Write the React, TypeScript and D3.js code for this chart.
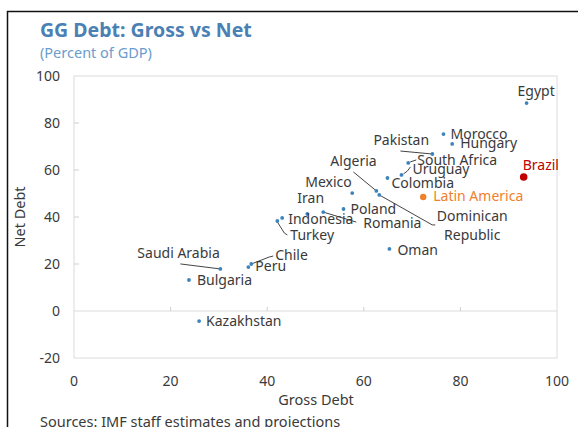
import React from "react";
import * as d3 from "d3";

const countries = [
  "Egypt", "Brazil", "Morocco", "Hungary", "Pakistan", "South Africa", "Uruguay",
  "Colombia", "Latin America", "Algeria", "Dominican Republic", "Mexico", "Iran",
  "Poland", "Romania", "Indonesia", "Turkey", "Oman", "Chile", "Peru",
  "Saudi Arabia", "Bulgaria", "Kazakhstan",
];
const grossDebt = [
  93.7, 93.1, 76.5, 78.3, 74.2, 69.2, 67.8,
  64.9, 72.3, 62.6, 63.2, 57.6, 48.3,
  55.8, 51.6, 43.1, 42.1, 65.3, 36.7, 36.1,
  30.3, 23.8, 25.9,
];
const netDebt = [
  88.5, 57.0, 75.3, 71.1, 66.8, 63.0, 57.9,
  56.6, 48.5, 51.1, 49.4, 50.2, 41.3,
  43.4, 42.1, 39.6, 38.3, 26.4, 20.0, 18.7,
  17.9, 13.2, -4.3,
];
const pointKind = [
  "country", "highlight", "country", "country", "country", "country", "country",
  "country", "aggregate", "country", "country", "country", "country",
  "country", "country", "country", "country", "country", "country", "country",
  "country", "country", "country",
];
const xTicks = [0, 20, 40, 60, 80, 100];
const yTicks = [-20, 0, 20, 40, 60, 80, 100];

// label layout (pixel offsets from the point), leader polylines in offsets
type Lab = { dx: number; dy: number; anchor?: string; lines?: string[]; leader?: [number, number][] };
const labelLayout: Record<string, Lab> = {
  "Egypt": { dx: -9, dy: -7 },
  "Brazil": { dx: -1, dy: -7 },
  "Morocco": { dx: 7, dy: 5 },
  "Hungary": { dx: 8, dy: 4 },
  "Pakistan": { dx: -59, dy: -9, leader: [[-32, -3], [0, 0]] },
  "South Africa": { dx: 9, dy: 2, leader: [[2, -1], [8, -3]] },
  "Uruguay": { dx: 11, dy: -1, leader: [[2, -1], [6, -4], [9, -8]] },
  "Colombia": { dx: 4, dy: 10 },
  "Latin America": { dx: 10, dy: 4 },
  "Algeria": { dx: -46, dy: -25, leader: [[-23, -19], [0, 0]] },
  "Dominican Republic": { dx: 93, dy: 26, anchor: "middle", lines: ["Dominican", "Republic"], leader: [[0, 0], [53, 30], [56, 30]] },
  "Mexico": { dx: -47, dy: -6 },
  "Iran": { dx: -10, dy: -11 },
  "Poland": { dx: 7, dy: 5 },
  "Romania": { dx: 40, dy: 16, leader: [[0, 0], [33, 10]] },
  "Indonesia": { dx: 6, dy: 6 },
  "Turkey": { dx: 13, dy: 19, leader: [[0, 1], [7, 12], [10, 14]] },
  "Oman": { dx: 8, dy: 6 },
  "Chile": { dx: 24, dy: -4, leader: [[0, 0], [18, -7], [22, -8]] },
  "Peru": { dx: 7, dy: 4 },
  "Saudi Arabia": { dx: -83, dy: -11, leader: [[-40, -5], [0, 0]] },
  "Bulgaria": { dx: 8, dy: 5 },
  "Kazakhstan": { dx: 7, dy: 5 },
};

const W = 578;
const H = 427;
const FONT = "'Noto Sans', 'Open Sans', sans-serif";
const TEXT = "#3a3a3a";
const BLUE = "#3d84bd";
const ORANGE = "#f0802b";
const RED = "#c00000";

export default function App() {
  const x = d3.scaleLinear().domain([0, 100]).range([74, 557]);
  const y = d3.scaleLinear().domain([-20, 100]).range([358, 76]);
  const line = d3.line<[number, number]>();

  const pts = countries.map((name, i) => ({
    name,
    gx: x(grossDebt[i]),
    gy: y(netDebt[i]),
    kind: pointKind[i],
  }));

  return (
    <svg width={W} height={H} style={{ position: "absolute", left: 0, top: 0, background: "#fff" }} fontFamily={FONT}>
      <rect x={0} y={0} width={W} height={H} fill="#fff" />
      {/* outer border */}
      <path d={`M7.5,${H} V11.5 H${W}`} fill="none" stroke="#111" strokeWidth={1.5} />

      {/* title */}
      <text x={40} y={37} fontSize={19.5} fontWeight={700} fill="#4a80b4">GG Debt: Gross vs Net</text>
      <text x={40} y={58} fontSize={14.5} fill="#6a9ccc">(Percent of GDP)</text>

      {/* plot frame */}
      <rect x={x(0)} y={y(100)} width={x(100) - x(0)} height={y(-20) - y(100)} fill="none" stroke="#dcdcdc" strokeWidth={1} />
      {/* zero line */}
      <line x1={x(0)} x2={x(100)} y1={y(0)} y2={y(0)} stroke="#dcdcdc" strokeWidth={1} />
      {/* y ticks */}
      {yTicks.filter(t => t > -20 && t < 100 && t !== 0).map(t => (
        <line key={"yt" + t} x1={x(0)} x2={x(0) + 5} y1={y(t)} y2={y(t)} stroke="#cfcfcf" />
      ))}
      {/* x ticks */}
      {xTicks.filter(t => t > 0 && t < 100).map(t => (
        <line key={"xt" + t} x1={x(t)} x2={x(t)} y1={y(0)} y2={y(0) - 4} stroke="#cfcfcf" />
      ))}
      {yTicks.map(t => (
        <text key={"yl" + t} x={60} y={y(t) + 5} textAnchor="end" fontSize={14} fill={TEXT}>{t}</text>
      ))}
      {xTicks.map(t => (
        <text key={"xl" + t} x={x(t)} y={386} textAnchor="middle" fontSize={14} fill={TEXT}>{t}</text>
      ))}
      <text x={316} y={405} textAnchor="middle" fontSize={14.5} fill={TEXT}>Gross Debt</text>
      <text transform={`translate(25,217) rotate(-90)`} textAnchor="middle" fontSize={14.5} fill={TEXT}>Net Debt</text>

      {/* leaders */}
      {pts.map(p => {
        const l = labelLayout[p.name];
        if (!l || !l.leader) return null;
        const d = line(l.leader.map(([a, b]) => [p.gx + a, p.gy + b] as [number, number]));
        return <path key={"ld" + p.name} d={d || ""} fill="none" stroke="#444" strokeWidth={1} />;
      })}

      {/* points */}
      {pts.map(p => (
        <circle key={"pt" + p.name} cx={p.gx} cy={p.gy}
          r={p.kind === "country" ? 1.9 : p.kind === "aggregate" ? 3.2 : 3.8}
          fill={p.kind === "country" ? BLUE : p.kind === "aggregate" ? ORANGE : RED} />
      ))}

      {/* labels */}
      {pts.map(p => {
        const l = labelLayout[p.name];
        const col = p.kind === "country" ? TEXT : p.kind === "aggregate" ? ORANGE : RED;
        const lines = l.lines || [p.name];
        return (
          <text key={"lb" + p.name} fontSize={14} fill={col} textAnchor={l.anchor || "start"}>
            {lines.map((s, k) => (
              <tspan key={k} x={p.gx + l.dx} y={p.gy + l.dy + k * 19}>{s}</tspan>
            ))}
          </text>
        );
      })}

      <text x={40} y={427} fontSize={14.5} fill={TEXT}>Sources: IMF staff estimates and projections</text>
    </svg>
  );
}
